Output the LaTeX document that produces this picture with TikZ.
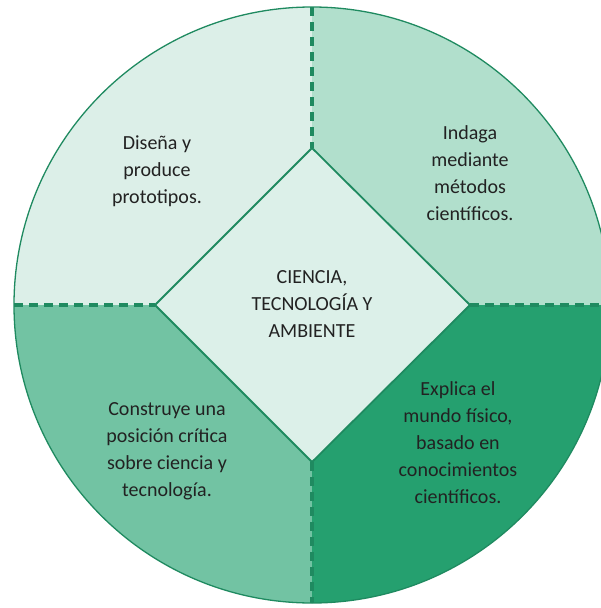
\documentclass[tikz,border=0pt]{standalone}
\usepackage{fontspec}
\setmainfont{Carlito}
\definecolor{qTL}{HTML}{DCEFE8}
\definecolor{qTR}{HTML}{B1DFCC}
\definecolor{qBL}{HTML}{72C3A3}
\definecolor{qBR}{HTML}{25A06F}
\definecolor{dia}{HTML}{DCF0E9}
\definecolor{edge}{HTML}{1F8A60}
\definecolor{txt}{HTML}{222222}
\begin{document}
\begin{tikzpicture}[x=1pt,y=-1pt,
  lbl/.style={align=center,font=\fontsize{20}{27}\selectfont,text=txt,inner sep=0pt},
  sep/.style={draw=edge,line width=3.2pt,dash pattern=on 9pt off 6pt}]
\useasboundingbox (0,0) rectangle (601,608);
\coordinate (c) at (312,305);
\begin{scope}
\clip (c) circle[radius=298];
\fill[qTL] (0,0) rectangle (312,305);
\fill[qTR] (312,0) rectangle (620,305);
\fill[qBL] (0,305) rectangle (312,620);
\fill[qBR] (312,305) rectangle (620,620);
\end{scope}
\draw[edge,line width=1.3pt] (c) circle[radius=298];
\coordinate (dT) at (312,148);
\coordinate (dL) at (155,305);
\coordinate (dR) at (470,305);
\coordinate (dB) at (312,462);
\coordinate (eT) at (312,7);
\coordinate (eL) at (14,305);
\coordinate (eR) at (610,305);
\coordinate (eB) at (312,603);
\draw[sep] (eT) -- (dT);
\draw[sep] (eL) -- (dL);
\draw[sep] (dR) -- (eR);
\draw[sep] (dB) -- (eB);
\fill[dia] (dT) -- (dR) -- (dB) -- (dL) -- cycle;
\draw[edge,line width=1.8pt,line join=miter] (dT) -- (dR) -- (dB) -- (dL) -- cycle;
\node[lbl] (center) at (312,304) {CIENCIA,\\TECNOLOGÍA Y\\AMBIENTE};
\node[lbl] (tl) at (157,171) {Diseña y\\produce\\prototipos.};
\node[lbl] (tr) at (470,173) {Indaga\\mediante\\métodos\\científicos.};
\node[lbl] (bl) at (167,451) {Construye una\\posición crítica\\sobre ciencia y\\tecnología.};
\node[lbl] (br) at (458,443) {Explica el\\mundo físico,\\basado en\\conocimientos\\científicos.};
\end{tikzpicture}
\end{document}
